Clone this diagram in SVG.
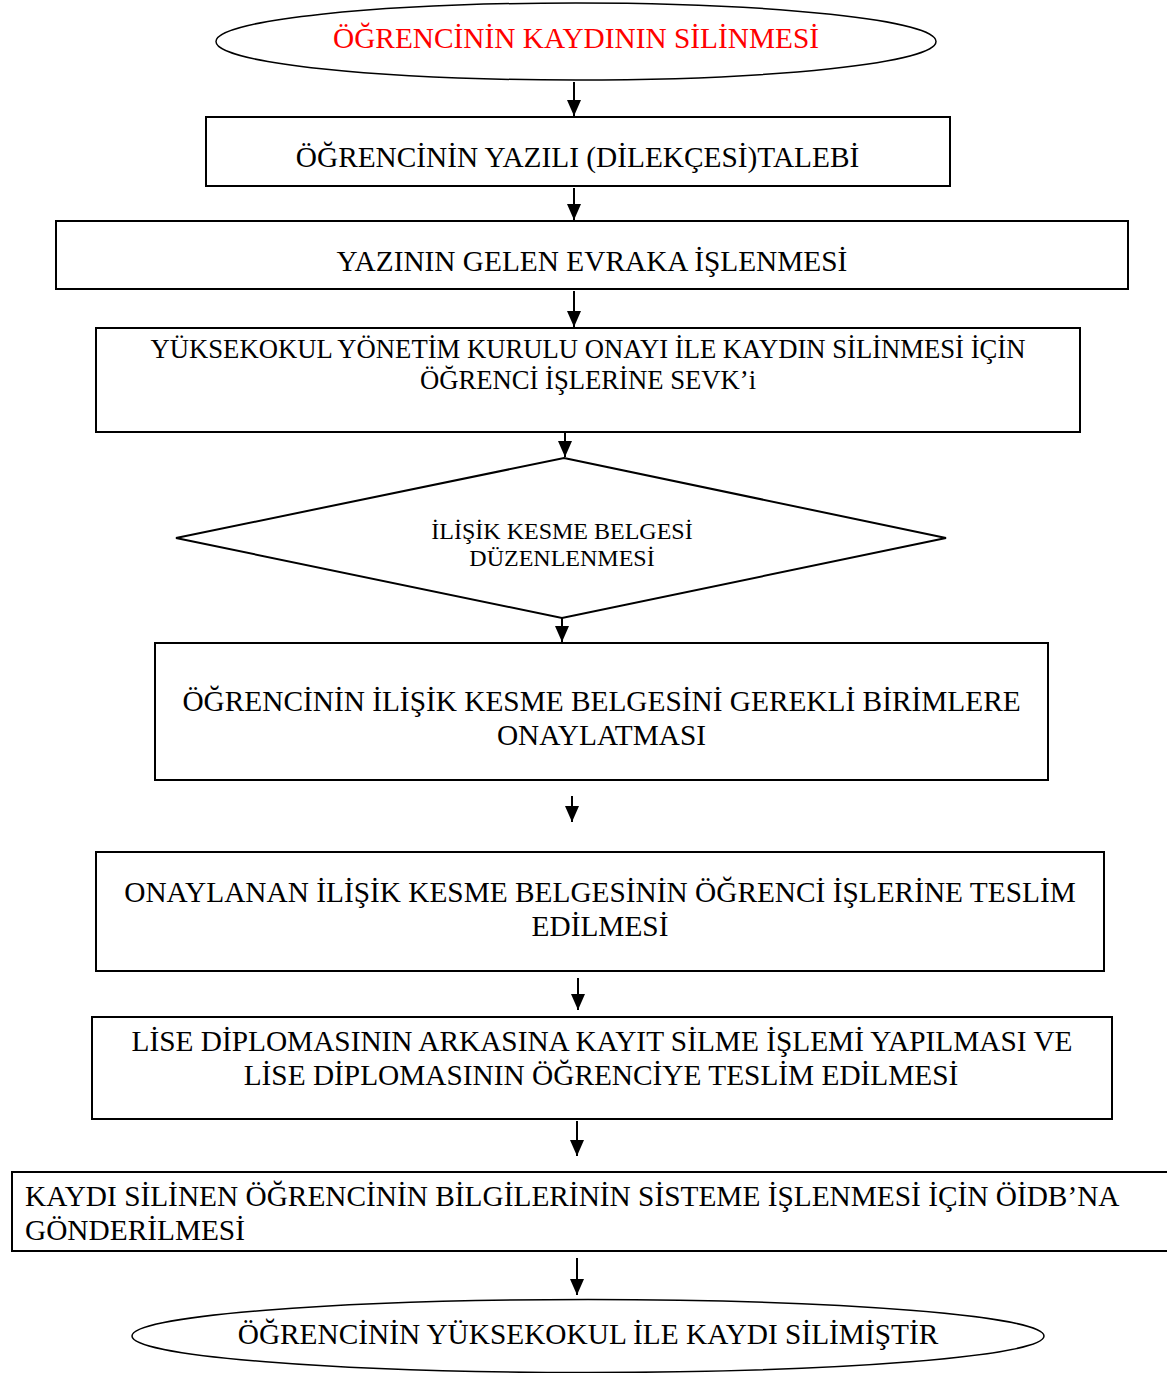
<svg xmlns="http://www.w3.org/2000/svg" width="1167" height="1373" viewBox="0 0 1167 1373">
<style>
.shape{fill:#fff;stroke:#000;stroke-width:2}
.ell{fill:#fff;stroke:#000;stroke-width:1.5}
.t{font-family:"Liberation Serif","Times New Roman",serif;font-size:29.33px;fill:#000;text-anchor:middle}
.m{font-size:26.67px}
.s{font-size:24px}
.red{fill:#ff0000}
.c{stroke:#000;stroke-width:2;fill:none}
</style>
<defs>
<marker id="ah" viewBox="0 0 16 14" markerWidth="16" markerHeight="14" refX="16" refY="7" orient="auto" markerUnits="userSpaceOnUse">
<path d="M0,0 L16,7 L0,14 z" fill="#000"/>
</marker>
</defs>
<rect width="1167" height="1373" fill="#fff"/>
<g id="connectors">
<line class="c" x1="574" y1="82" x2="574" y2="116" marker-end="url(#ah)"/>
<line class="c" x1="574" y1="188" x2="574" y2="220" marker-end="url(#ah)"/>
<line class="c" x1="574" y1="291" x2="574" y2="327" marker-end="url(#ah)"/>
<line class="c" x1="565" y1="433" x2="565" y2="457" marker-end="url(#ah)"/>
<line class="c" x1="562" y1="614" x2="562" y2="642" marker-end="url(#ah)"/>
<line class="c" x1="572" y1="796" x2="572" y2="822" marker-end="url(#ah)"/>
<line class="c" x1="578" y1="978" x2="578" y2="1010" marker-end="url(#ah)"/>
<line class="c" x1="577" y1="1121" x2="577" y2="1156" marker-end="url(#ah)"/>
<line class="c" x1="577" y1="1258" x2="577" y2="1295" marker-end="url(#ah)"/>
</g>
<g id="n1">
<ellipse class="ell" cx="576" cy="41.5" rx="360" ry="38.5"/>
<text class="t red" x="576" y="48">ÖĞRENCİNİN KAYDININ SİLİNMESİ</text>
</g>
<g id="n2">
<rect class="shape" x="206" y="117" width="744" height="69"/>
<text class="t" x="577.5" y="167">ÖĞRENCİNİN YAZILI (DİLEKÇESİ)TALEBİ</text>
</g>
<g id="n3">
<rect class="shape" x="56" y="221" width="1072" height="68"/>
<text class="t" x="592" y="271">YAZININ GELEN EVRAKA İŞLENMESİ</text>
</g>
<g id="n4">
<rect class="shape" x="96" y="328" width="984" height="104"/>
<text class="t m" x="588" y="358">YÜKSEKOKUL YÖNETİM KURULU ONAYI İLE KAYDIN SİLİNMESİ İÇİN</text>
<text class="t m" x="588" y="389">ÖĞRENCİ İŞLERİNE SEVK’i</text>
</g>
<g id="n5">
<polygon class="shape" points="564,458 946,538 562,618 176,538"/>
<text class="t s" x="562" y="539">İLİŞİK KESME BELGESİ</text>
<text class="t s" x="562" y="566">DÜZENLENMESİ</text>
</g>
<g id="n6">
<rect class="shape" x="155" y="643" width="893" height="137"/>
<text class="t" x="601.5" y="711">ÖĞRENCİNİN İLİŞİK KESME BELGESİNİ GEREKLİ BİRİMLERE</text>
<text class="t" x="601.5" y="745">ONAYLATMASI</text>
</g>
<g id="n7">
<rect class="shape" x="96" y="852" width="1008" height="119"/>
<text class="t" x="600" y="902">ONAYLANAN İLİŞİK KESME BELGESİNİN ÖĞRENCİ İŞLERİNE TESLİM</text>
<text class="t" x="600" y="936">EDİLMESİ</text>
</g>
<g id="n8">
<rect class="shape" x="92" y="1017" width="1020" height="102"/>
<text class="t" x="602" y="1051">LİSE DİPLOMASININ ARKASINA KAYIT SİLME İŞLEMİ YAPILMASI VE</text>
<text class="t" x="601" y="1085">LİSE DİPLOMASININ ÖĞRENCİYE TESLİM EDİLMESİ</text>
</g>
<g id="n9">
<rect class="shape" x="12" y="1172" width="1165" height="79"/>
<text class="t" x="25" y="1206" text-anchor="start" style="text-anchor:start">KAYDI SİLİNEN ÖĞRENCİNİN BİLGİLERİNİN SİSTEME İŞLENMESİ İÇİN ÖİDB’NA</text>
<text class="t" x="25" y="1240" style="text-anchor:start">GÖNDERİLMESİ</text>
</g>
<g id="n10">
<ellipse class="ell" cx="588" cy="1336" rx="456" ry="36.5"/>
<text class="t" x="588" y="1344">ÖĞRENCİNİN YÜKSEKOKUL İLE KAYDI SİLİMİŞTİR</text>
</g>
</svg>
